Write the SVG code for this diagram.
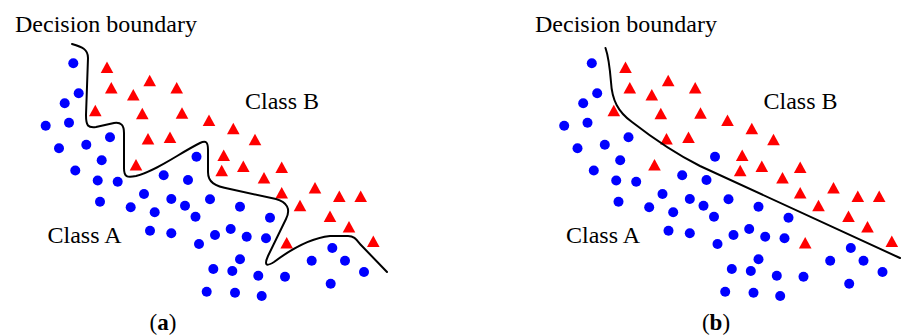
<svg xmlns="http://www.w3.org/2000/svg" xmlns:xlink="http://www.w3.org/1999/xlink" width="911" height="335" viewBox="0 0 911 335">
<style>
.lbl{font-family:"Liberation Serif","Times New Roman",serif;font-size:24px;fill:#000}
.cap{font-family:"Liberation Serif","Times New Roman",serif;font-size:23px;fill:#000;text-anchor:middle}
.b{fill:#0000ff}
.r{fill:#ff0000}
.bd{fill:none;stroke:#000;stroke-width:2;stroke-linecap:round;stroke-linejoin:round}
</style>
<defs>
<circle id="c" r="5" class="b"/>
<polygon id="t" points="0,-6.3 6.3,5.2 -6.3,5.2" class="r"/>
<g id="pts">
<use href="#c" x="73.3" y="63.3"/><use href="#c" x="78.7" y="93.3"/><use href="#c" x="64.7" y="103.3"/>
<use href="#c" x="45.7" y="125.7"/><use href="#c" x="69" y="122.7"/><use href="#c" x="110" y="137.3"/>
<use href="#c" x="59" y="148.3"/><use href="#c" x="86.3" y="144.7"/><use href="#c" x="101.7" y="160.3"/>
<use href="#c" x="75.3" y="170.5"/><use href="#c" x="97.7" y="180.5"/><use href="#c" x="117.7" y="181.7"/>
<use href="#c" x="163.7" y="175.3"/><use href="#c" x="188" y="180"/><use href="#c" x="196.5" y="156.7"/>
<use href="#c" x="144" y="194"/><use href="#c" x="100" y="201.7"/><use href="#c" x="130.7" y="207.3"/>
<use href="#c" x="171.3" y="199"/><use href="#c" x="154.7" y="212.3"/><use href="#c" x="185" y="205.7"/>
<use href="#c" x="195.5" y="216.7"/><use href="#c" x="150" y="230.7"/><use href="#c" x="171.3" y="233.3"/>
<use href="#c" x="199" y="244"/><use href="#c" x="210" y="199.3"/><use href="#c" x="240" y="206.7"/>
<use href="#c" x="270" y="217.7"/><use href="#c" x="230.7" y="229"/><use href="#c" x="215" y="235"/>
<use href="#c" x="246.7" y="236.7"/><use href="#c" x="266" y="238.3"/><use href="#c" x="240" y="259.3"/>
<use href="#c" x="213.3" y="269"/><use href="#c" x="232.3" y="271"/><use href="#c" x="258.3" y="275.7"/>
<use href="#c" x="285" y="276.7"/><use href="#c" x="311.7" y="260.7"/><use href="#c" x="332.3" y="248"/>
<use href="#c" x="345" y="260.7"/><use href="#c" x="364" y="272"/><use href="#c" x="330.7" y="283.7"/>
<use href="#c" x="206.7" y="291.7"/><use href="#c" x="235" y="292.7"/><use href="#c" x="261.7" y="296"/>
<use href="#t" x="107" y="67.7"/><use href="#t" x="111.3" y="88.3"/><use href="#t" x="149.7" y="81"/>
<use href="#t" x="176.7" y="88.3"/><use href="#t" x="133.3" y="95.3"/><use href="#t" x="95.3" y="111"/>
<use href="#t" x="142.3" y="114"/><use href="#t" x="182" y="113.5"/><use href="#t" x="148" y="139.3"/>
<use href="#t" x="170" y="137.7"/><use href="#t" x="136" y="165.3"/><use href="#t" x="209" y="120.7"/>
<use href="#t" x="233.3" y="129"/><use href="#t" x="255" y="140"/><use href="#t" x="223.7" y="155.7"/>
<use href="#t" x="221.7" y="171"/><use href="#t" x="243.3" y="166.7"/><use href="#t" x="281.7" y="167.7"/>
<use href="#t" x="264" y="178.3"/><use href="#t" x="281.7" y="193.3"/><use href="#t" x="315" y="188.3"/>
<use href="#t" x="339.3" y="196.7"/><use href="#t" x="360.7" y="196.7"/><use href="#t" x="300" y="206"/>
<use href="#t" x="330" y="216.7"/><use href="#t" x="349" y="227.3"/><use href="#t" x="286.7" y="243.3"/>
<use href="#t" x="373.3" y="241.7"/>
</g>
</defs>
<g id="panel-a">
<use href="#pts"/>
<path class="bd" d="M72,44 C82,47 88,49 88,58 L86,115 C86,126 88,128 96,127 L114,123 C121,122 124,125 124,133 L124,168 C124,177 127,178 136,176 C158,170 178,154 200,143 C206,140 208,142 208,150 L208,172 C208,182 214,186 230,189 L276,199 C287,202 291,209 286,219 L268,256 C264,265 266,267 274,262 C290,250 310,238 330,236 L348,236 C354,236 356,239 360,244 L387,272"/>
<text class="lbl" x="15" y="31.5">Decision boundary</text>
<text class="lbl" x="245" y="109">Class B</text>
<text class="lbl" x="47.5" y="242.5">Class A</text>
<text class="cap" x="163" y="330">(<tspan font-weight="bold">a</tspan>)</text>
</g>
<g id="panel-b">
<use href="#pts" x="518.5"/>
<path class="bd" d="M605.5,48 C609,58 610,70 611,82 C612,100 618,112 632,122 C650,136 672,152 700,166 L900,258"/>
<text class="lbl" x="535" y="31.5">Decision boundary</text>
<text class="lbl" x="763.5" y="109">Class B</text>
<text class="lbl" x="566" y="242.5">Class A</text>
<text class="cap" x="716" y="330">(<tspan font-weight="bold">b</tspan>)</text>
</g>
</svg>
